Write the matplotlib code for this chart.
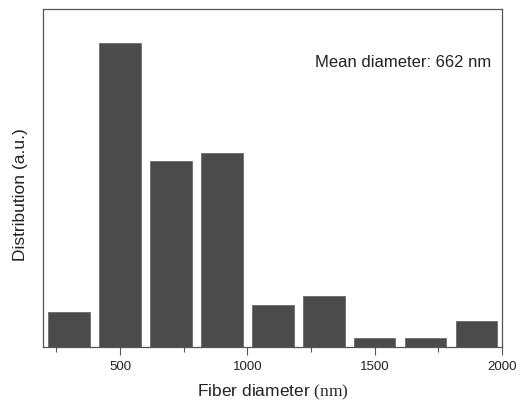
import matplotlib
matplotlib.use("Agg")
import matplotlib.pyplot as plt
from matplotlib.ticker import MultipleLocator

plt.rcParams['font.family'] = ['Liberation Sans', 'DejaVu Sans']
plt.rcParams['mathtext.fontset'] = 'custom'
plt.rcParams['mathtext.rm'] = 'Liberation Serif'

diameters = [300, 500, 700, 900, 1100, 1300, 1500, 1700, 1900]
distribution = [34.7, 304, 185.7, 194.4, 42.4, 50.7, 8.7, 8.7, 25.7]
xticks = [500, 1000, 1500, 2000]
annotation = "Mean diameter: 662 nm"

fig = plt.figure(figsize=(5.21, 4.03), dpi=100)
ax = fig.add_axes([0.0825, 0.139, 0.881, 0.8375])

ax.bar(diameters, distribution, width=163, color='#4b4b4b',
       edgecolor='#6a6a6a', linewidth=0.6)

ax.set_xlim(197, 2000)
ax.set_ylim(0, 337.4)
ax.set_xticks(xticks)
ax.xaxis.set_minor_locator(MultipleLocator(250))
ax.set_yticks([])
ax.tick_params(axis='x', which='major', length=6, width=0.8, color='#555555',
               labelsize=9.5, labelcolor='#222222', pad=4)
ax.tick_params(axis='x', which='minor', length=3.5, width=0.8, color='#555555')
for s in ax.spines.values():
    s.set_color('#555555')
    s.set_linewidth(0.9)

ax.set_xlabel(r"Fiber diameter $\mathrm{(nm)}$", fontsize=12.5, color='#222222', labelpad=7)
ax.set_ylabel("Distribution (a.u.)", fontsize=12.5, color='#222222')
ax.yaxis.set_label_coords(-0.032, 0.45)

ax.text(0.976, 0.844, annotation, transform=ax.transAxes, ha='right', va='center',
        fontsize=12, color='#222222')

fig.savefig("out.png", dpi=100)
